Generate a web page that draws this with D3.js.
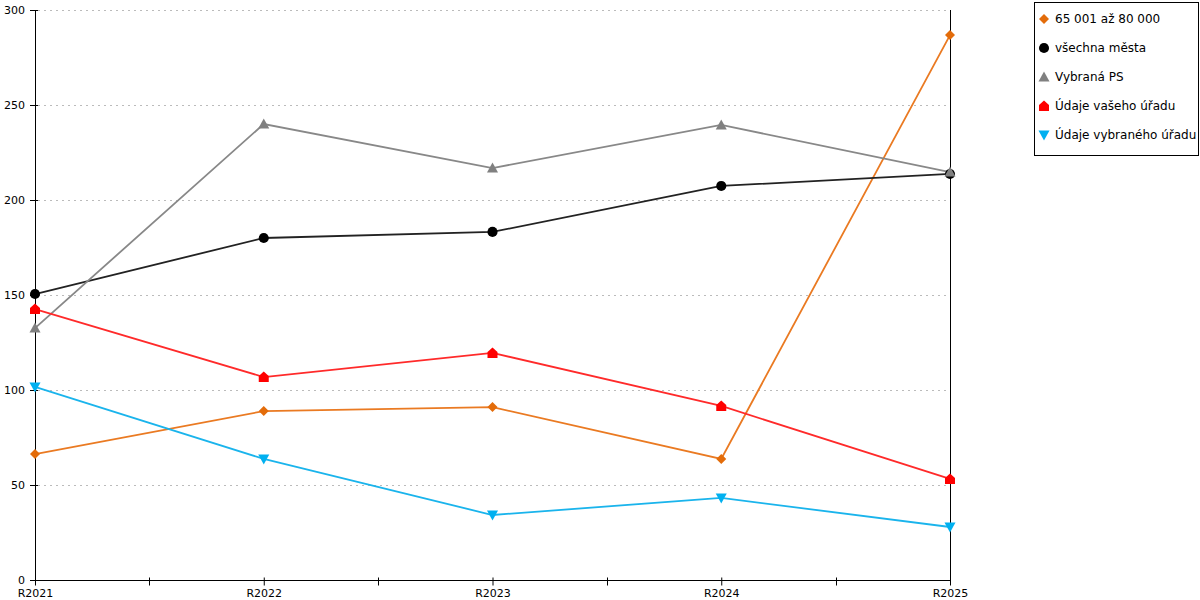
<!DOCTYPE html>
<html>
<head>
<meta charset="utf-8">
<script src="https://cdn.jsdelivr.net/npm/d3@7"></script>
<style>
  body { margin: 0; background: #fff; }
  svg { font-family: "DejaVu Sans", Verdana, sans-serif; }
</style>
</head>
<body>
<svg id="chart" width="1200" height="600"></svg>
<script>
const years = ['R2021', 'R2022', 'R2023', 'R2024', 'R2025']
const yTicks = [0, 50, 100, 150, 200, 250, 300]

// Series values
const skupina = [66.3, 88.9, 91.0, 63.7, 286.8]
const vsechnaMesta = [150.5, 180.0, 183.2, 207.4, 213.7]
const vybranaPS = [132.6, 240.0, 216.8, 239.5, 214.7]
const vasUrad = [142.6, 106.8, 119.5, 91.6, 53.2]
const vybranyUrad = [101.6, 63.7, 34.2, 43.2, 27.9]

const series = [
  { name: '65 001 až 80 000', values: skupina, color: '#e36c0a', line: '#ea7a22', shape: 'diamond' },
  { name: 'všechna města', values: vsechnaMesta, color: '#000000', line: '#222222', shape: 'circle' },
  { name: 'Vybraná PS', values: vybranaPS, color: '#808080', line: '#888888', shape: 'up' },
  { name: 'Údaje vašeho úřadu', values: vasUrad, color: '#ff0000', line: '#ff2a2a', shape: 'house' },
  { name: 'Údaje vybraného úřadu', values: vybranyUrad, color: '#00b0f0', line: '#1ab4ec', shape: 'down' }
]

const svg = d3.select('#chart')
const plotLeft = 35, plotRight = 950, plotTop = 10, plotBottom = 580

const x = d3.scalePoint().domain(years).range([plotLeft, plotRight])
const y = d3.scaleLinear().domain([0, 300]).range([plotBottom, plotTop])

// Marker paths centred on 0,0
const markerPath = (shape) => {
  switch (shape) {
    case 'diamond': return 'M0,-5L5,0L0,5L-5,0Z'
    case 'circle': return d3.symbol(d3.symbolCircle, 80)()
    case 'up': return 'M0,-5.5L5.5,4.5L-5.5,4.5Z'
    case 'down': return 'M0,5.5L5.5,-4.5L-5.5,-4.5Z'
    case 'house': return 'M0,-5.5L5,-1L5,5L-5,5L-5,-1Z'
  }
}

// Grid lines
svg.append('g')
  .selectAll('line')
  .data(yTicks.filter(d => d > 0))
  .join('line')
  .attr('x1', plotLeft + 3)
  .attr('x2', plotRight - 4)
  .attr('y1', d => y(d) + 0.5)
  .attr('y2', d => y(d) + 0.5)
  .attr('stroke', '#bbbbbb')
  .attr('stroke-dasharray', '2,4')

// Y axis
const yAxis = svg.append('g')
  .attr('transform', `translate(${plotLeft},0)`)
  .call(d3.axisLeft(y).tickValues(yTicks).tickSize(0).tickPadding(10).offset(0.5))
yAxis.select('.domain').attr('stroke', '#000')
yAxis.selectAll('.tick line').attr('x1', -5).attr('x2', 3).attr('stroke', '#000')
yAxis.selectAll('text').attr('font-size', 11).attr('fill', '#000')
  .attr('font-family', '"DejaVu Sans", Verdana, sans-serif')

// Right border line
svg.append('line')
  .attr('x1', plotRight + 0.5).attr('x2', plotRight + 0.5)
  .attr('y1', plotTop).attr('y2', plotBottom)
  .attr('stroke', '#000')

// X axis
const xAxis = svg.append('g')
  .attr('transform', `translate(0,${plotBottom + 0.5})`)
  .call(d3.axisBottom(x).tickSize(5).tickPadding(4))
xAxis.select('.domain').attr('d', `M${plotLeft},0H${plotRight + 1}`).attr('stroke', '#000')
xAxis.selectAll('.tick line').attr('stroke', '#000')
xAxis.selectAll('.tick').filter((d, i) => i > 0 && i < years.length - 1)
  .select('line').attr('y1', -3)
xAxis.selectAll('text').attr('font-size', 11).attr('fill', '#000')
  .attr('font-family', '"DejaVu Sans", Verdana, sans-serif')

// Minor ticks between categories
const mids = years.slice(1).map((d, i) => (x(years[i]) + x(d)) / 2)
xAxis.selectAll('.minor')
  .data(mids)
  .join('line')
  .attr('class', 'minor')
  .attr('x1', d => Math.round(d) + 0.5)
  .attr('x2', d => Math.round(d) + 0.5)
  .attr('y1', -3)
  .attr('y2', 5)
  .attr('stroke', '#000')

// Lines and markers
const line = d3.line()
  .x((d, i) => x(years[i]))
  .y(d => y(d))

series.forEach(s => {
  svg.append('path')
    .datum(s.values)
    .attr('fill', 'none')
    .attr('stroke', s.line || s.color)
    .attr('stroke-width', 1.8)
    .attr('d', line)
})

series.forEach(s => {
  svg.append('g')
    .selectAll('path')
    .data(s.values)
    .join('path')
    .attr('transform', (d, i) => `translate(${x(years[i])},${y(d)})`)
    .attr('d', markerPath(s.shape))
    .attr('fill', s.color)
})

// Legend
const legend = svg.append('g')
legend.append('rect')
  .attr('x', 1034.5).attr('y', 2.5)
  .attr('width', 164).attr('height', 153)
  .attr('fill', '#fff').attr('stroke', '#000')

const item = legend.selectAll('.item')
  .data(series)
  .join('g')
  .attr('class', 'item')
  .attr('transform', (d, i) => `translate(1044,${19 + i * 29})`)

item.append('path')
  .attr('d', d => markerPath(d.shape))
  .attr('fill', d => d.color)

item.append('text')
  .attr('x', 11)
  .attr('y', 4)
  .attr('font-size', 12)
  .attr('fill', '#000')
  .text(d => d.name)
</script>
</body>
</html>
